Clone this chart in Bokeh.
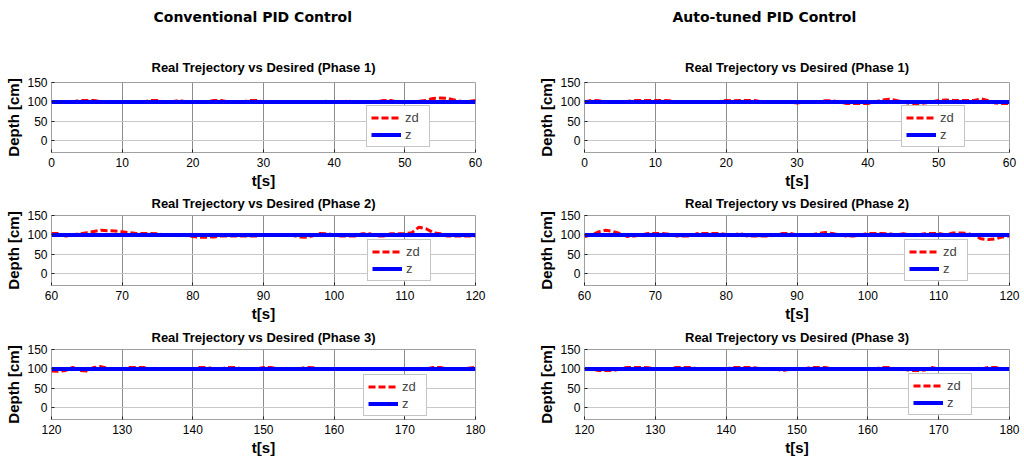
from bokeh.embed import file_html
from bokeh.layouts import column, row
from bokeh.models import Legend, LegendItem, Range1d, Title
from bokeh.plotting import figure
from bokeh.resources import INLINE

headings = ["Conventional PID Control", "Auto-tuned PID Control"]
phase_titles = ["Real Trejectory vs Desired (Phase 1)",
                "Real Trejectory vs Desired (Phase 2)",
                "Real Trejectory vs Desired (Phase 3)"]
x_ticks = [[0, 10, 20, 30, 40, 50, 60],
           [60, 70, 80, 90, 100, 110, 120],
           [120, 130, 140, 150, 160, 170, 180]]
y_ticks = [0, 50, 100, 150]

# sample times (1 s steps) for each phase
t_phase1 = list(range(0, 61))
t_phase2 = list(range(60, 121))
t_phase3 = list(range(120, 181))

# z (blue) stays on the 100 cm set point
z_level = [100, 100]

# zd (red dashed), conventional PID
zd_conv_1 = [101, 100, 100, 100, 104, 104, 104, 100, 100, 100,
             100, 100, 100, 100, 104, 104, 100, 100, 104, 100,
             100, 100, 100, 104, 104, 100, 100, 100, 104, 104,
             100, 100, 100, 100, 100, 100, 100, 100, 100, 102,
             100, 100, 102, 100, 100, 100, 100, 104, 104, 100,
             100, 100, 102, 104, 109, 110, 109, 105, 101, 101, 104]
zd_conv_2 = [104, 104, 97, 100, 103, 106, 109, 112, 111, 110,
             108, 106, 104, 104, 104, 103, 100, 100, 100, 100,
             96, 94, 94, 95, 97, 97, 97, 97, 97, 97,
             100, 100, 100, 100, 100, 95, 94, 98, 104, 103,
             100, 97, 97, 97, 103, 103, 97, 97, 103, 103,
             103, 106, 120, 116, 106, 103, 97, 97, 97, 97, 97]
zd_conv_3 = [95, 94, 96, 104, 96, 95, 104, 106, 101, 100,
             100, 104, 104, 104, 100, 100, 100, 100, 100, 100,
             100, 104, 104, 100, 100, 104, 104, 100, 100, 100,
             104, 104, 100, 100, 100, 100, 104, 103, 100, 100,
             100, 100, 100, 100, 100, 100, 100, 100, 100, 100,
             100, 100, 100, 100, 104, 104, 100, 100, 100, 102, 104]

# zd (red dashed), auto-tuned PID
zd_auto_1 = [100, 104, 103, 100, 100, 100, 101, 104, 104, 104,
             104, 104, 103, 100, 100, 100, 100, 100, 100, 101,
             104, 103, 104, 104, 104, 100, 100, 100, 100, 100,
             97, 100, 100, 100, 103, 103, 100, 96, 96, 96,
             96, 100, 105, 107, 104, 100, 96, 96, 97, 100,
             104, 105, 104, 104, 104, 104, 108, 103, 97, 96, 96]
zd_auto_2 = [96, 100, 108, 112, 109, 104, 96, 97, 100, 104,
             104, 104, 102, 97, 97, 97, 104, 104, 104, 104,
             101, 100, 104, 97, 97, 97, 97, 100, 104, 104,
             100, 100, 100, 104, 106, 104, 100, 97, 97, 100,
             104, 104, 104, 103, 100, 103, 100, 100, 103, 104,
             104, 100, 105, 105, 104, 99, 90, 88, 90, 95, 97]
zd_auto_3 = [100, 100, 96, 96, 96, 100, 104, 104, 104, 103,
             100, 100, 100, 104, 104, 104, 100, 100, 100, 100,
             100, 104, 104, 104, 103, 100, 100, 100, 96, 100,
             100, 100, 104, 104, 104, 100, 100, 100, 100, 100,
             100, 100, 104, 104, 100, 100, 96, 96, 97, 104,
             100, 100, 100, 100, 100, 100, 100, 104, 104, 100, 100]

times = [t_phase1, t_phase2, t_phase3]
zd_all = [[zd_conv_1, zd_conv_2, zd_conv_3], [zd_auto_1, zd_auto_2, zd_auto_3]]

fig_widths = [533, 491]
border_right = [58, 15]
heading_offsets = [102, 88]
fig_heights = [192, 133, 134]
border_top = [82, 23, 24]
title_standoff = [11, 6, 6]
legend_spots = [[(315, 5), (316, 4), (312, 3)], [(317, 5), (320, 4), (324, 4)]]

TICK_FONT = "Liberation Sans, Arial"
LABEL_FONT = "Liberation Sans, Arial"


def build_panel(side, phase):
    t = times[phase]
    zd = zd_all[side][phase]
    p = figure(width=fig_widths[side], height=fig_heights[phase],
               x_range=Range1d(x_ticks[phase][0], x_ticks[phase][-1]),
               y_range=Range1d(-30, 150),
               output_backend="svg", toolbar_location=None, title_location=None,
               min_border_left=51, min_border_right=border_right[side],
               min_border_top=border_top[phase], min_border_bottom=40)
    p.background_fill_color = "white"
    p.border_fill_color = "white"
    p.outline_line_color = "#a0a0a0"

    p.add_layout(Title(text=phase_titles[phase], align="center",
                       vertical_align="top", standoff=title_standoff[phase],
                       text_font=LABEL_FONT, text_font_size="13px",
                       text_font_style="bold", text_color="black"), "above")
    if phase == 0:
        # blank title used as a spacer between the phase title and the heading
        p.add_layout(Title(text=" ", text_font_size="10px", standoff=15), "above")
        p.add_layout(Title(text=headings[side], align="left", vertical_align="top",
                           offset=heading_offsets[side], standoff=0,
                           text_font="DejaVu Sans", text_font_size="14px",
                           text_font_style="bold", text_color="black"), "above")

    red = p.line(t, zd, line_color="#ff0000", line_width=3, line_dash="7 3")
    blue = p.line([t[0], t[-1]], z_level, line_color="#0000ff", line_width=4)

    p.xaxis.ticker = x_ticks[phase]
    p.yaxis.ticker = y_ticks
    p.xaxis.axis_label = "t[s]"
    p.yaxis.axis_label = "Depth [cm]"
    for ax in (p.xaxis, p.yaxis):
        ax.axis_line_color = None
        ax.major_tick_in = 3
        ax.major_tick_out = 0
        ax.major_tick_line_color = "#222222"
        ax.minor_tick_line_color = None
        ax.major_label_text_font = TICK_FONT
        ax.major_label_text_font_size = "12px"
        ax.major_label_text_color = "black"
        ax.axis_label_text_font = LABEL_FONT
        ax.axis_label_text_font_style = "bold"
        ax.axis_label_text_font_size = "15px"
        ax.axis_label_text_color = "black"
        ax.axis_label_standoff = 2
    p.xaxis.major_label_standoff = 5
    p.yaxis.major_label_standoff = 4
    p.yaxis.major_label_orientation = "horizontal"

    p.xgrid.grid_line_color = "#8c8c8c"
    p.ygrid.grid_line_color = "#c8c8c8"
    p.xgrid.grid_line_width = 1
    p.ygrid.grid_line_width = 1

    legend = Legend(items=[LegendItem(label="zd", renderers=[red]),
                           LegendItem(label="z", renderers=[blue])],
                    location=legend_spots[side][phase])
    legend.border_line_color = "#8c8c8c"
    legend.background_fill_color = "white"
    legend.background_fill_alpha = 1
    legend.label_text_font = LABEL_FONT
    legend.label_text_font_size = "13px"
    legend.glyph_width = 30
    legend.glyph_height = 15
    legend.label_height = 15
    legend.label_standoff = 4
    legend.spacing = 2
    legend.padding = 4
    legend.margin = 0
    p.add_layout(legend)
    return p


rows = []
for phase in range(3):
    rows.append(row(build_panel(0, phase), build_panel(1, phase)))
layout = column(*rows)

open("out.html", "w").write(file_html(layout, INLINE))
